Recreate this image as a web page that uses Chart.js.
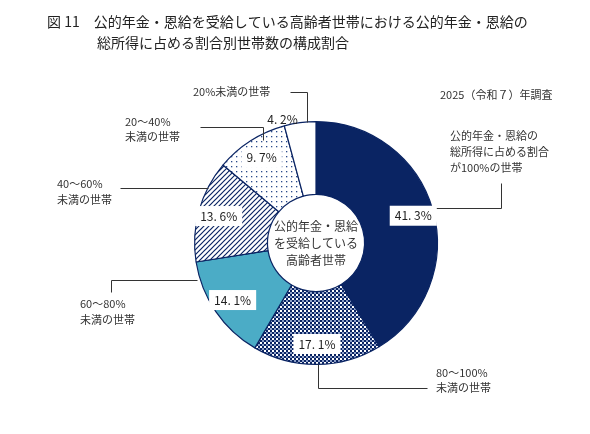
<!DOCTYPE html>
<html><head><meta charset="utf-8">
<script src="https://cdn.jsdelivr.net/npm/chart.js@4"></script>
<style>body{margin:0;background:#fff}#w{width:590px;height:434px}</style>
</head><body><div id="w"><canvas id="c"></canvas></div>
<script>
const categories = ["公的年金・恩給の総所得に占める割合が100%の世帯","80～100%未満の世帯","60～80%未満の世帯","40～60%未満の世帯","20～40%未満の世帯","20%未満の世帯"];
const values = [41.3, 17.1, 14.1, 13.6, 9.7, 4.2];
const valueLabels = ["41. 3%","17. 1%","14. 1%","13. 6%","9. 7%","4. 2%"];
const NAVY = '#0a2463';
function pat(size, draw){const c=document.createElement('canvas');c.width=c.height=size;const g=c.getContext('2d');g.fillStyle='#fff';g.fillRect(0,0,size,size);draw(g);return document.getElementById('c').getContext('2d').createPattern(c,'repeat');}
const checker = pat(4,g=>{g.fillStyle=NAVY;g.fillRect(0,0,2,2);g.fillRect(2,2,2,2);g.fillStyle='#8ea0c8';g.fillRect(2,0,2,2);});
const hatch = pat(5,g=>{g.strokeStyle=NAVY;g.lineWidth=1.2;g.beginPath();g.moveTo(0,5);g.lineTo(5,0);g.moveTo(-1,1);g.lineTo(1,-1);g.moveTo(4,6);g.lineTo(6,4);g.stroke();});
const dots = pat(5,g=>{g.fillStyle='#2a4a8a';g.fillRect(1,1,1.3,1.3);});
const fills=[NAVY,checker,'#4bacc6',hatch,dots,'#ffffff'];
const F='"Noto Sans CJK JP", sans-serif';
const deco={id:'deco',afterDraw(ch){const x=ch.ctx;x.save();
 x.fillStyle='#222';x.font='14px '+F;x.textBaseline='middle';
 x.fillText('図 11　公的年金・恩給を受給している高齢者世帯における公的年金・恩給の',47,22);
 x.fillText('総所得に占める割合別世帯数の構成割合',97,43);
 x.font='11px '+F;x.fillStyle='#333';
 x.fillText('2025（令和７）年調査',440,95);
 [['公的年金・恩給の',450,136],['総所得に占める割合',450,152],['が100%の世帯',450,168],
  ['80～100%',436,373],['未満の世帯',436,388],['60～80%',80,304],['未満の世帯',80,320],
  ['40～60%',57,184],['未満の世帯',57,200],['20～40%',125,122],['未満の世帯',125,137],['20%未満の世帯',193,92]
 ].forEach(t=>x.fillText(t[0],t[1],t[2]));
 x.strokeStyle='#333';x.lineWidth=1;
 [[[501,183],[501,208],[430,208]],[[427,388],[318,388],[318,364]],[[111,292],[111,280],[197,280]],
  [[120,188],[208,188]],[[200,127],[263,127],[263,140]],[[290,92],[307,92],[307,122]]].forEach(p=>{x.beginPath();x.moveTo(p[0][0]+.5,p[0][1]+.5);p.slice(1).forEach(q=>x.lineTo(q[0]+.5,q[1]+.5));x.stroke();});
 const m=ch.getDatasetMeta(0);
 m.data.forEach((a,i)=>{let ang=(a.startAngle+a.endAngle)/2;let r=(a.outerRadius*0.72+a.innerRadius*0.28);if(i==5){ang=a.startAngle;r=a.outerRadius+7;}
  const px=a.x+Math.cos(ang)*r,py=a.y+Math.sin(ang)*r;x.font='12px '+F;const w=x.measureText(valueLabels[i]).width+10;
  if(i!=5){x.fillStyle='#fff';x.fillRect(px-w/2,py-10,w,20);}
  x.fillStyle='#222';x.textAlign='center';x.fillText(valueLabels[i],px,py);});
 const a=m.data[0];x.font='12px '+F;x.fillStyle='#333';x.textAlign='center';
 ['公的年金・恩給','を受給している','高齢者世帯'].forEach((s,i)=>x.fillText(s,a.x,a.y-17+i*17));
 x.restore();}};
new Chart(document.getElementById('c'),{type:'doughnut',
 data:{labels:categories,datasets:[{data:values,backgroundColor:fills,borderColor:NAVY,borderWidth:1.2}]},
 options:{responsive:true,maintainAspectRatio:false,animation:false,cutout:'40%',
  layout:{padding:{top:121,bottom:69,left:194,right:152}},
  plugins:{legend:{display:false},tooltip:{enabled:false}}},plugins:[deco]});
</script></body></html>
